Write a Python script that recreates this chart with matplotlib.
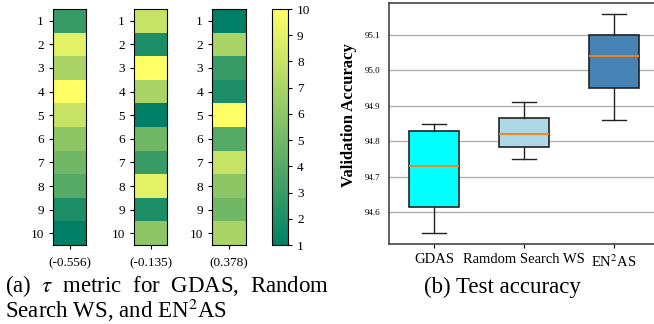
import matplotlib
matplotlib.use('Agg')
import matplotlib.pyplot as plt
import numpy as np

plt.rcParams['font.family'] = ['Liberation Serif', 'DejaVu Serif']
plt.rcParams['mathtext.fontset'] = 'stix'

# ranks shown in the three heat columns (rows 1..10)
gdas_rank = [3, 9, 7, 10, 8, 6, 5, 4, 2, 1]
rsws_rank = [8, 2, 10, 7, 1, 5, 3, 9, 2, 6]
en2as_rank = [1, 7, 3, 2, 10, 4, 8, 6, 5, 7]
tau_labels = ['(-0.556)', '(-0.135)', '(0.378)']
row_labels = [str(i) for i in range(1, 11)]

# box plot statistics
methods = ['GDAS', 'Ramdom Search WS', 'EN$^2$AS']
whislo = [94.54, 94.75, 94.86]
q1 = [94.615, 94.785, 94.95]
med = [94.73, 94.82, 95.04]
q3 = [94.828, 94.865, 95.10]
whishi = [94.85, 94.91, 95.16]
box_colors = ['#00ffff', '#add8e6', '#4682b4']

W, H = 654, 324
fig = plt.figure(figsize=(W / 100, H / 100), dpi=100)

def px(l, t, r, b):
    return [l / W, 1 - b / H, (r - l) / W, (b - t) / H]

cols = [gdas_rank, rsws_rank, en2as_rank]
lefts = [(53, 86), (134, 167), (212, 246)]
for k in range(3):
    ax = fig.add_axes(px(lefts[k][0], 9, lefts[k][1], 245))
    im = ax.imshow(np.array(cols[k]).reshape(-1, 1), cmap='summer',
                   vmin=1, vmax=10, aspect='auto')
    ax.set_yticks(range(10))
    ax.set_yticklabels(row_labels, fontsize=9.5)
    ax.set_xticks([0])
    ax.set_xticklabels([tau_labels[k]], fontsize=9.5)
    ax.tick_params(axis='x', pad=6, length=3)
    ax.tick_params(axis='y', length=3)

cax = fig.add_axes(px(272, 9, 288, 245))
cb = fig.colorbar(im, cax=cax, ticks=range(1, 11))
cb.ax.tick_params(labelsize=9.5, length=3)

# box plot
bx = fig.add_axes(px(389, 3, 659, 244))
stats = []
for i in range(3):
    stats.append({'whislo': whislo[i], 'q1': q1[i], 'med': med[i],
                  'q3': q3[i], 'whishi': whishi[i], 'fliers': []})
bp = bx.bxp(stats, positions=[1, 2, 3], widths=0.55, patch_artist=True,
            showfliers=False,
            medianprops=dict(color='#ff7f0e', linewidth=1.3),
            boxprops=dict(edgecolor='#222222', linewidth=1.2),
            whiskerprops=dict(color='#222222', linewidth=1),
            capprops=dict(color='#222222', linewidth=1))
for patch, c in zip(bp['boxes'], box_colors):
    patch.set_facecolor(c)
bx.set_xlim(0.5, 3.5)
bx.set_ylim(94.51, 95.19)
bx.set_yticks([94.6, 94.7, 94.8, 94.9, 95.0, 95.1])
bx.set_yticklabels(['94.6', '94.7', '94.8', '94.9', '95.0', '95.1'], fontsize=6.5)
bx.set_xticks([1, 2, 3])
bx.set_xticklabels(methods, fontsize=10.5)
bx.tick_params(axis='y', length=0, pad=6)
bx.tick_params(axis='x', length=3)
bx.yaxis.grid(True, color='#b0b0b0', linewidth=1)
bx.set_axisbelow(True)
for s in bx.spines.values():
    s.set_color('#444444')
    s.set_linewidth(1.2)
bx.set_ylabel('Validation Accuracy', fontsize=12, fontweight='bold')
bx.yaxis.set_label_coords(-0.118, 0.535)

fig.text(5 / W, 1 - 292 / H, '(a)  $\\tau$  metric  for  GDAS,  Random',
         fontsize=16.5, va='baseline', ha='left')
fig.text(5 / W, 1 - 318 / H, 'Search WS, and EN$^2$AS',
         fontsize=16.5, va='baseline', ha='left')
fig.text(424 / W, 1 - 293 / H, '(b) Test accuracy', fontsize=16.5, va='baseline', ha='left')

plt.savefig('out.png', dpi=100)
